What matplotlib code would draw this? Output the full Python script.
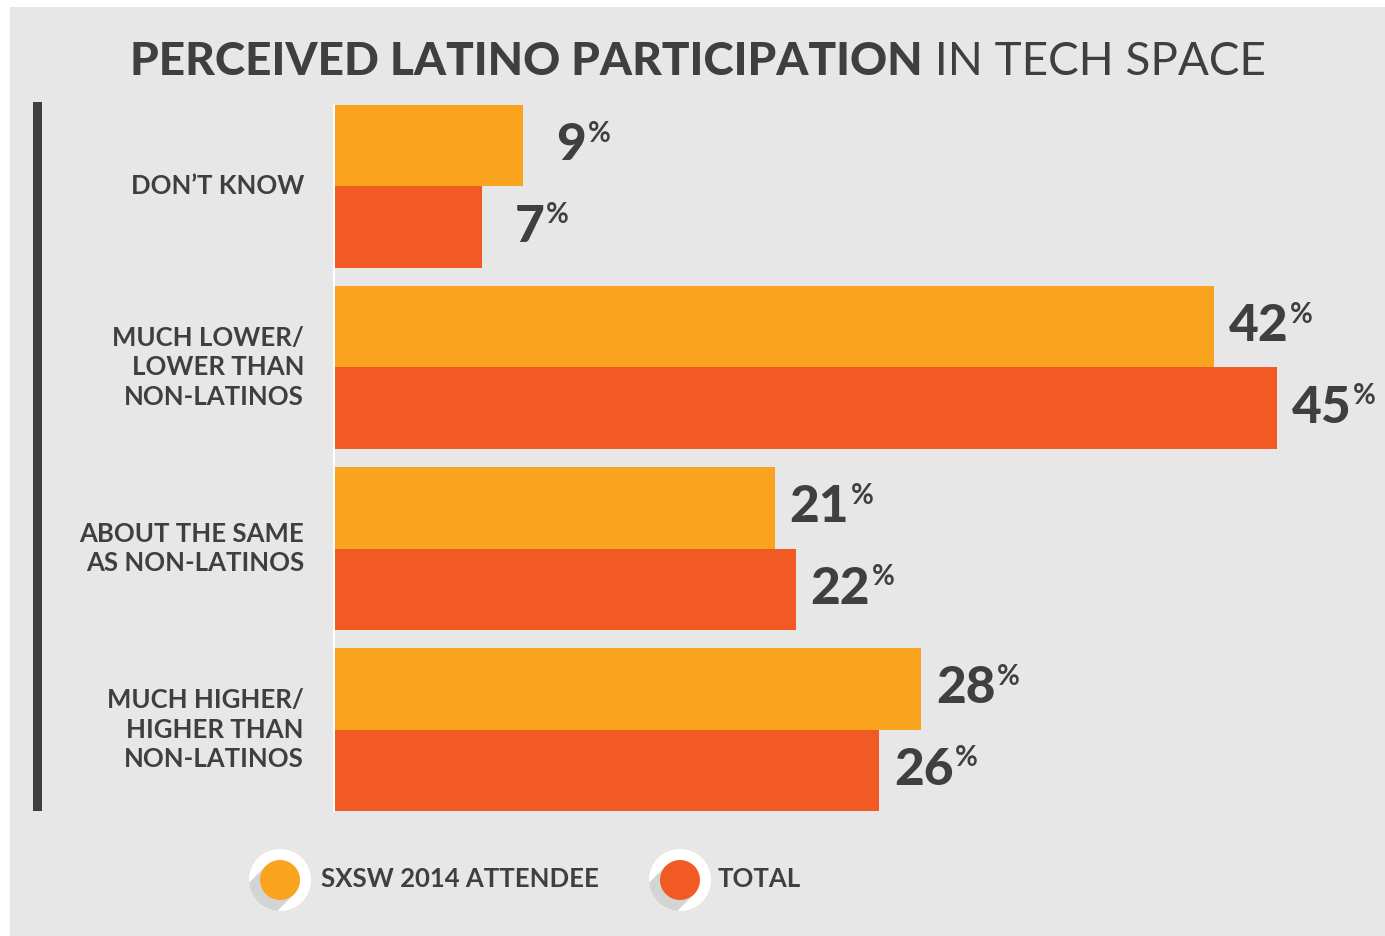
import numpy as np
import matplotlib.pyplot as plt
from matplotlib.patches import Circle, Polygon, Rectangle

plt.rcParams['font.family'] = ['Lato', 'DejaVu Sans']

# data
categories = ["DON\u2019T KNOW", "MUCH LOWER/\nLOWER THAN\nNON-LATINOS",
              "ABOUT THE SAME\nAS NON-LATINOS", "MUCH HIGHER/\nHIGHER THAN\nNON-LATINOS"]
sxsw = [9, 42, 21, 28]
total = [7, 45, 22, 26]
series_names = ["SXSW 2014 ATTENDEE", "TOTAL"]

ORANGE = '#F9A31F'
RED = '#F15A22'
DARK = '#3F3F41'
PANEL = '#E6E7E6'

W, H = 1385, 936
fig = plt.figure(figsize=(W / 100, H / 100), dpi=100)
fig.patch.set_facecolor('white')

# full-figure canvas in pixel coordinates (y down)
bg = fig.add_axes([0, 0, 1, 1])
bg.set_xlim(0, W)
bg.set_ylim(H, 0)
bg.axis('off')
bg.add_patch(Rectangle((10, 7), W - 10, H - 7, facecolor=PANEL, edgecolor='none'))
bg.add_patch(Rectangle((33, 102), 9, 709, facecolor=DARK, edgecolor='none'))

# title: bold part + regular part, centred as a whole
t1 = bg.text(115, 62, "PERCEIVED LATINO PARTICIPATION", fontsize=33, fontweight='black',
             color=DARK, ha='left', va='center')
t2 = bg.annotate(" IN TECH SPACE", xy=(1, 0), xycoords=t1, fontsize=33, fontweight='normal',
                 color=DARK, ha='left', va='bottom')

# bars
left, right, top, bottom = 335, W, 105, 811
ax = fig.add_axes([left / W, 1 - bottom / H, (right - left) / W, (bottom - top) / H])
ax.set_facecolor('none')
px_per_pct = (1277 - 335) / 45.0
ax.set_xlim(0, (right - left) / px_per_pct)
ax.set_ylim(3.45, -0.45)
ax.axis('off')

y = np.arange(len(categories))
h = 0.45
ax.barh(y - h / 2, sxsw, height=h, color=ORANGE, edgecolor='none')
ax.barh(y + h / 2, total, height=h, color=RED, edgecolor='none')
bg.plot([333.5, 333.5], [top, bottom], color='white', lw=1.5, zorder=5)

for vals, off in ((sxsw, -h / 2), (total, h / 2)):
    for i, v in enumerate(vals):
        pad = 15 if v >= 10 else 33
        t = ax.annotate(str(v), xy=(v, i + off), xytext=(pad * 0.72, 0), textcoords='offset points',
                        fontsize=37, fontweight='black', color=DARK, ha='left', va='center')
        ax.annotate('%', xy=(1, 1), xycoords=t, xytext=(1, 1), textcoords='offset points',
                    fontsize=20, fontweight='bold', color=DARK, ha='left', va='top')

# category labels
for i, c in enumerate(categories):
    yc = top + (i + 0.45) / 3.9 * (bottom - top)
    bg.text(304, yc, c, fontsize=18.5, fontweight='bold', color=DARK, ha='right', va='center',
            multialignment='right', linespacing=1.27)


# legend markers with long shadow
def marker(cx, cy, color):
    ring = Circle((cx, cy), 31, facecolor='white', edgecolor='none', zorder=3)
    bg.add_patch(ring)
    r = 20
    d = np.array([-1, 1]) / np.sqrt(2)
    p = np.array([1, 1]) / np.sqrt(2)
    c = np.array([cx, cy])
    pts = [c + r * p, c - r * p, c - r * p + 80 * d, c + r * p + 80 * d]
    sh = Polygon(pts, closed=True, facecolor='#D3D5D5', edgecolor='none', zorder=4)
    bg.add_patch(sh)
    sh.set_clip_path(ring)
    bg.add_patch(Circle((cx, cy), r, facecolor=color, edgecolor='none', zorder=5))


marker(280, 880, ORANGE)
marker(680, 880, RED)
bg.text(321, 879, series_names[0], fontsize=18.5, fontweight='bold', color=DARK, ha='left', va='center')
bg.text(718, 879, series_names[1], fontsize=18.5, fontweight='bold', color=DARK, ha='left', va='center')

# centre the two-part title on x = 698
fig.canvas.draw()
r = fig.canvas.get_renderer()
x0 = t1.get_window_extent(r).x0
x1 = t2.get_window_extent(r).x1
t1.set_x(115 + (698 - (x0 + x1) / 2))

fig.savefig('out.png', dpi=100, facecolor=fig.get_facecolor())
